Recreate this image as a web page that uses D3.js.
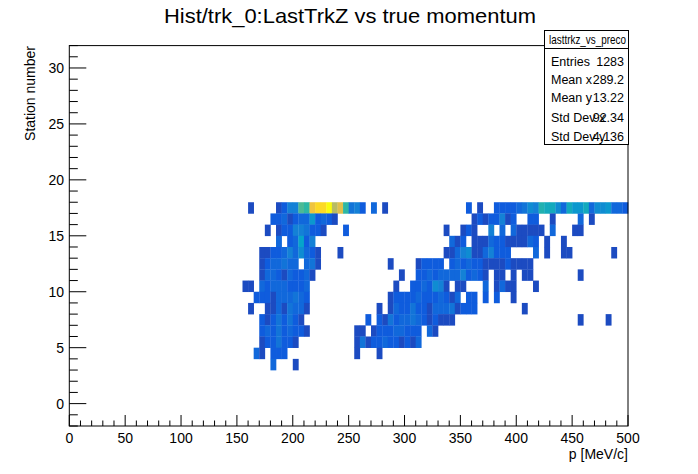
<!DOCTYPE html>
<html>
<head>
<meta charset="utf-8">
<script src="https://cdn.jsdelivr.net/npm/d3@7"></script>
<style>
  body { margin: 0; background: #fff; }
  text { font-family: "Liberation Sans", Arial, sans-serif; }
</style>
</head>
<body>
<div id="chart"></div>
<script>
// 5 MeV/c bins in x, one station per bin in y
var binWidth = 5;
var stations = [17, 16, 15, 14, 13, 12, 11, 10, 9, 8, 7, 6, 5, 4, 3];
// per station: [first bin, counts in base 36, "." = empty]
var rows = [
  [[32, "1"], [37, "1255cbjllngib452.3.1"], [71, "2.1..22223465a996397793667332"]],
  [[36, "223123372321"], [72, "12122512..22..1"], [91, "3.1"]],
  [[35, "1.122554221"], [49, "2"], [67, "1..121..5.3.311111.3"], [90, "11"]],
  [[37, "3.23825"], [68, "312.111322111132.1..1"]],
  [[34, "11223536321...1"], [67, "113561135222....3.1..11.......1"]],
  [[34, "1233433.341"], [57, "1....12222.232322111121111"]],
  [[34, "1332132231"], [59, "1..2232333352321.11.1.11"], [91, "1"]],
  [[31, "11.323332223"], [58, "1..2232651.11...3.1311...1"]],
  [[33, "2221333432"], [57, "1222232223213.22.2.2..1"]],
  [[32, "1..11314331"], [55, "1.1322422133341222"], [81, "1"]],
  [[34, "21242421"], [53, "2.21423343212111"], [91, "1"], [96, "1"]],
  [[34, "232423221"], [51, "11.122233222.31"]],
  [[34, "1224221"], [51, "141223221213"]],
  [[33, "31.222"], [51, "1...1"]],
  [[36, "3...1"]]
];
var xTicks = [0, 50, 100, 150, 200, 250, 300, 350, 400, 450, 500];
var yTicks = [0, 5, 10, 15, 20, 25, 30];
var statLabels = ["Entries", "Mean x", "Mean y", "Std Dev x", "Std Dev y"];
var statValues = ["1283", "289.2", "13.22", "92.34", "4.136"];

var cells = [];
rows.forEach(function(segs, r){
  segs.forEach(function(s){
    s[1].split("").forEach(function(c, k){
      if (c !== ".") cells.push({ x: (s[0] + k) * binWidth, y: stations[r], n: parseInt(c, 36) });
    });
  });
});

var W = 698, H = 474;
var svg = d3.select("#chart").append("svg").attr("width", W).attr("height", H);

var x = d3.scaleLinear().domain([0, 500]).range([69.3, 628]);
var y = d3.scaleLinear().domain([-2, 32]).range([426, 45.6]);

// ROOT kBird palette
var bird = [[0.2082,0.1664,0.5293],[0.0592,0.3599,0.8684],[0.0780,0.5041,0.8385],[0.0232,0.6419,0.7914],
  [0.1802,0.7178,0.6425],[0.5301,0.7492,0.4662],[0.8186,0.7328,0.3499],[0.9956,0.7862,0.1968],[0.9764,0.9832,0.0539]];
var color = d3.scaleLinear()
  .domain(bird.map(function(d, i){ return i / 8 * 24; }))
  .range(bird.map(function(c){ return d3.rgb(c[0]*255, c[1]*255, c[2]*255); }))
  .clamp(true);

svg.selectAll("rect.cell")
  .data(cells)
  .enter()
  .append("rect")
  .attr("class", "cell")
  .attr("x", function(d){ return x(d.x); })
  .attr("y", function(d){ return y(d.y + 1); })
  .attr("width", function(d){ return x(d.x + binWidth) - x(d.x) + 0.3; })
  .attr("height", function(d){ return y(d.y) - y(d.y + 1) + 0.3; })
  .attr("fill", function(d){ return color(d.n + 1); });

// frame
svg.append("rect")
  .attr("x", x(0)).attr("y", y(32))
  .attr("width", x(500) - x(0)).attr("height", y(-2) - y(32))
  .attr("fill", "none").attr("stroke", "#000");

// x ticks
var xMinor = d3.range(0, 501, 10);
svg.selectAll("line.xt")
  .data(xMinor)
  .enter()
  .append("line")
  .attr("x1", function(d){ return x(d); }).attr("x2", function(d){ return x(d); })
  .attr("y1", y(-2))
  .attr("y2", function(d){ return y(-2) - (d % 50 === 0 ? 11 : 5.5); })
  .attr("stroke", "#000");
svg.selectAll("text.xl")
  .data(xTicks)
  .enter()
  .append("text")
  .attr("x", function(d){ return x(d); })
  .attr("y", 443)
  .attr("text-anchor", "middle")
  .attr("font-size", 14)
  .text(function(d){ return d; });

// y ticks
var yMinor = d3.range(-2, 33, 1);
svg.selectAll("line.yt")
  .data(yMinor)
  .enter()
  .append("line")
  .attr("y1", function(d){ return y(d); }).attr("y2", function(d){ return y(d); })
  .attr("x1", x(0))
  .attr("x2", function(d){ return x(0) + (d % 5 === 0 ? 17 : 8.5); })
  .attr("stroke", "#000");
svg.selectAll("text.yl")
  .data(yTicks)
  .enter()
  .append("text")
  .attr("x", 64)
  .attr("y", function(d){ return y(d) + 5; })
  .attr("text-anchor", "end")
  .attr("font-size", 14)
  .text(function(d){ return d; });

// titles
svg.append("text").attr("x", 350).attr("y", 23).attr("text-anchor", "middle")
  .attr("font-size", 21).attr("textLength", 372).attr("lengthAdjust", "spacingAndGlyphs")
  .text("Hist/trk_0:LastTrkZ vs true momentum");
svg.append("text").attr("x", 628).attr("y", 459).attr("text-anchor", "end")
  .attr("font-size", 14).text("p [MeV/c]");
svg.append("text").attr("transform", "translate(35,46) rotate(-90)").attr("text-anchor", "end")
  .attr("font-size", 14).text("Station number");

// stats box
var sb = svg.append("g");
sb.append("rect").attr("x", 544.5).attr("y", 30.5).attr("width", 84).attr("height", 114)
  .attr("fill", "#fff").attr("stroke", "#000");
sb.append("line").attr("x1", 544.5).attr("x2", 628.5).attr("y1", 48.5).attr("y2", 48.5).attr("stroke", "#000");
sb.append("text").attr("x", 549).attr("y", 44)
  .attr("font-size", 13).attr("textLength", 77).attr("lengthAdjust", "spacingAndGlyphs")
  .text("lasttrkz_vs_preco");
var statY = [66, 84, 102, 122, 141];
sb.selectAll("text.sl").data(statLabels).enter().append("text")
  .attr("x", 551).attr("y", function(d, i){ return statY[i]; })
  .attr("font-size", 12.5).text(function(d){ return d; });
sb.selectAll("text.sv").data(statValues).enter().append("text")
  .attr("x", 624).attr("y", function(d, i){ return statY[i]; })
  .attr("text-anchor", "end")
  .attr("font-size", 12.5).text(function(d){ return d; });
</script>
</body>
</html>
